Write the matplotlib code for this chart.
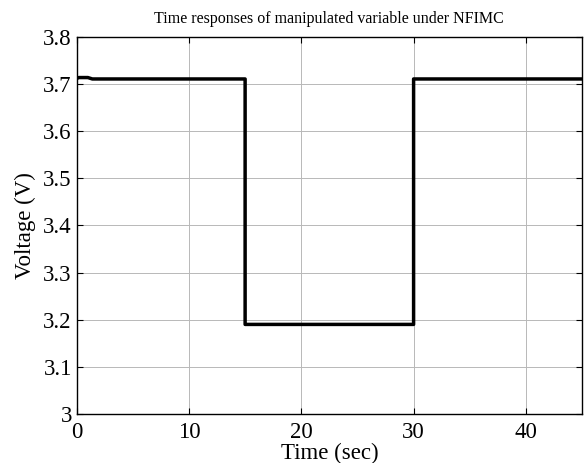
import matplotlib
matplotlib.use('Agg')
import matplotlib.pyplot as plt

# data: manipulated variable (voltage) vs time
t = [0, 0.2, 1.0, 1.4, 15.0, 15.0, 30.0, 30.0, 45.0]
v = [3.712, 3.714, 3.714, 3.711, 3.711, 3.19, 3.19, 3.711, 3.711]

xticks = [0, 10, 20, 30, 40]
yticks = [3.0, 3.1, 3.2, 3.3, 3.4, 3.5, 3.6, 3.7, 3.8]
ytick_labels = ['3', '3.1', '3.2', '3.3', '3.4', '3.5', '3.6', '3.7', '3.8']

plt.rcParams['font.family'] = ['Liberation Serif', 'DejaVu Serif']

fig = plt.figure(figsize=(5.85, 4.63), dpi=100)
ax = fig.add_axes([0.131, 0.106, 0.864, 0.814])

ax.plot(t, v, color='black', linewidth=2.5)

ax.set_xlim(0, 45)
ax.set_ylim(3.0, 3.8)
ax.set_xticks(xticks)
ax.set_yticks(yticks)
ax.set_yticklabels(ytick_labels)
ax.grid(True, color='#b8b8b8', linewidth=0.7)
ax.tick_params(direction='in', labelsize=16.5, length=4, top=True, right=True)
ax.tick_params(axis='x', pad=5.5)
for s in ax.spines.values():
    s.set_linewidth(1.0)

ax.set_xlabel('Time (sec)', fontsize=16.5, labelpad=0.5)
ax.set_ylabel('Voltage (V)', fontsize=16.5, labelpad=5)
ax.set_title('Time responses of manipulated variable under NFIMC', fontsize=11.5, pad=10)

fig.savefig('out.png', dpi=100)
